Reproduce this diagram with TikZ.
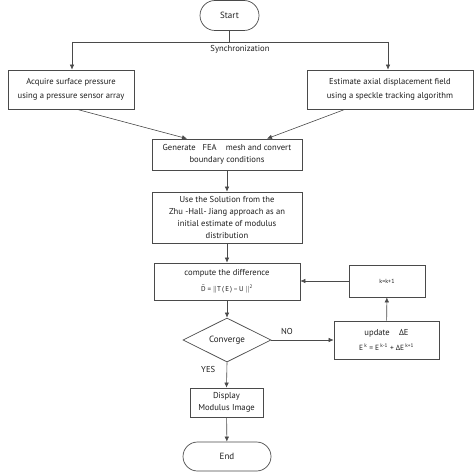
\documentclass[tikz,border=0pt]{standalone}
\usepackage{fontspec}
\setmainfont{PT Sans}
\usetikzlibrary{shapes.misc,shapes.geometric,arrows.meta}
\definecolor{ln}{HTML}{4A4A4A}
\definecolor{tx}{HTML}{1E1E1E}
\begin{document}
\begin{tikzpicture}[x=1pt,y=-1pt,
  font=\fontsize{8.6}{11.8}\selectfont, text=tx,
  box/.style={draw=ln, line width=0.7pt, rectangle, inner sep=0pt, align=center},
  term/.style={draw=ln, line width=0.7pt, rounded rectangle, inner sep=0pt, align=center},
  dec/.style={draw=ln, line width=0.7pt, diamond, inner sep=0pt, aspect=2},
  arr/.style={draw=ln, line width=0.6pt, -{Latex[length=5pt,width=4.5pt]}},
  con/.style={draw=ln, line width=0.6pt}]
\useasboundingbox (0,0) rectangle (474,476);
\fill[white] (0,0) rectangle (474,476);

\node[term, minimum width=59pt, minimum height=30pt, font=\fontsize{9}{11}\selectfont] (start) at (229.5,15.5) {Start};
\coordinate (sj) at (229.5,42);
\coordinate (sl) at (72,42);
\coordinate (sr) at (388,42);
\node (sync) at (240,49.5) {Synchronization};

\node[box, minimum width=126pt, minimum height=39pt] (acq) at (71,89.5)
  {Acquire surface pressure\\[2.5pt] using a pressure sensor array};
\node[box, minimum width=166pt, minimum height=39pt] (est) at (390,89.5)
  {Estimate axial displacement field\\[1.5pt] using a speckle tracking algorithm};

\node[box, minimum width=150pt, minimum height=31pt] (fea) at (227,154.5)
  {Generate\ \ \ FEA\ \ \ \ mesh and convert\\boundary conditions};
\node[box, minimum width=150pt, minimum height=51pt] (use) at (227,217.5)
  {Use the Solution from the\\Zhu -Hall- Jiang\ approach as an\\initial\ estimate of modulus\\distribution};
\node[box, minimum width=146pt, minimum height=37pt] (comp) at (227,281.5)
  {compute the difference\\[4.5pt] {\fontsize{7}{8}\selectfont$\tilde{\textrm{D}}$\ =\ $\|$T\,(\,E\,)\,–\,U\ $\|$\textsuperscript{2}}};
\node[dec, minimum width=88pt, minimum height=44pt, font=\fontsize{9}{11}\selectfont] (conv) at (227,340) {Converge};
\node[box, minimum width=105pt, minimum height=38pt] (upd) at (386.5,340)
  {update\ \ \ \ ΔE\\[2.5pt] {\fontsize{7.5}{9}\selectfont E\,\textsuperscript{k} = E\,\textsuperscript{k-1} + ΔE\,\textsuperscript{k+1}}};
\node[box, minimum width=76pt, minimum height=32pt, font=\fontsize{6}{8}\selectfont] (kb) at (387,281) {k=k+1};
\node[box, minimum width=73pt, minimum height=29pt] (disp) at (226.5,402.5)
  {Display\\Modulus Image};
\node[term, minimum width=88pt, minimum height=29pt, font=\fontsize{9}{11}\selectfont] (end) at (227,456.5) {End};

\draw[con] (start.south) -- (sj);
\draw[con] (sl) -- (sr);
\draw[arr] (sl) -- (sl |- acq.north);
\draw[arr] (sr) -- (sr |- est.north);
\draw[arr] ([xshift=6pt]acq.south) -- ([xshift=-40pt]fea.north);
\draw[arr] ([xshift=-45pt]est.south) -- ([xshift=40pt]fea.north);
\draw[arr] (fea) -- (use);
\draw[arr] (use) -- (comp);
\draw[arr] (comp) -- (conv);
\draw[arr] (conv.east) -- node[above, pos=0.25, yshift=2pt] (no) {NO} (upd.west);
\draw[arr] (upd) -- (kb);
\draw[arr] (kb.west) -- (kb.west -| comp.east);
\draw[arr] (conv.south) -- node[left, pos=0.3, xshift=-8pt] (yes) {YES} (disp.north);
\draw[arr] (disp) -- (end);
\end{tikzpicture}
\end{document}
